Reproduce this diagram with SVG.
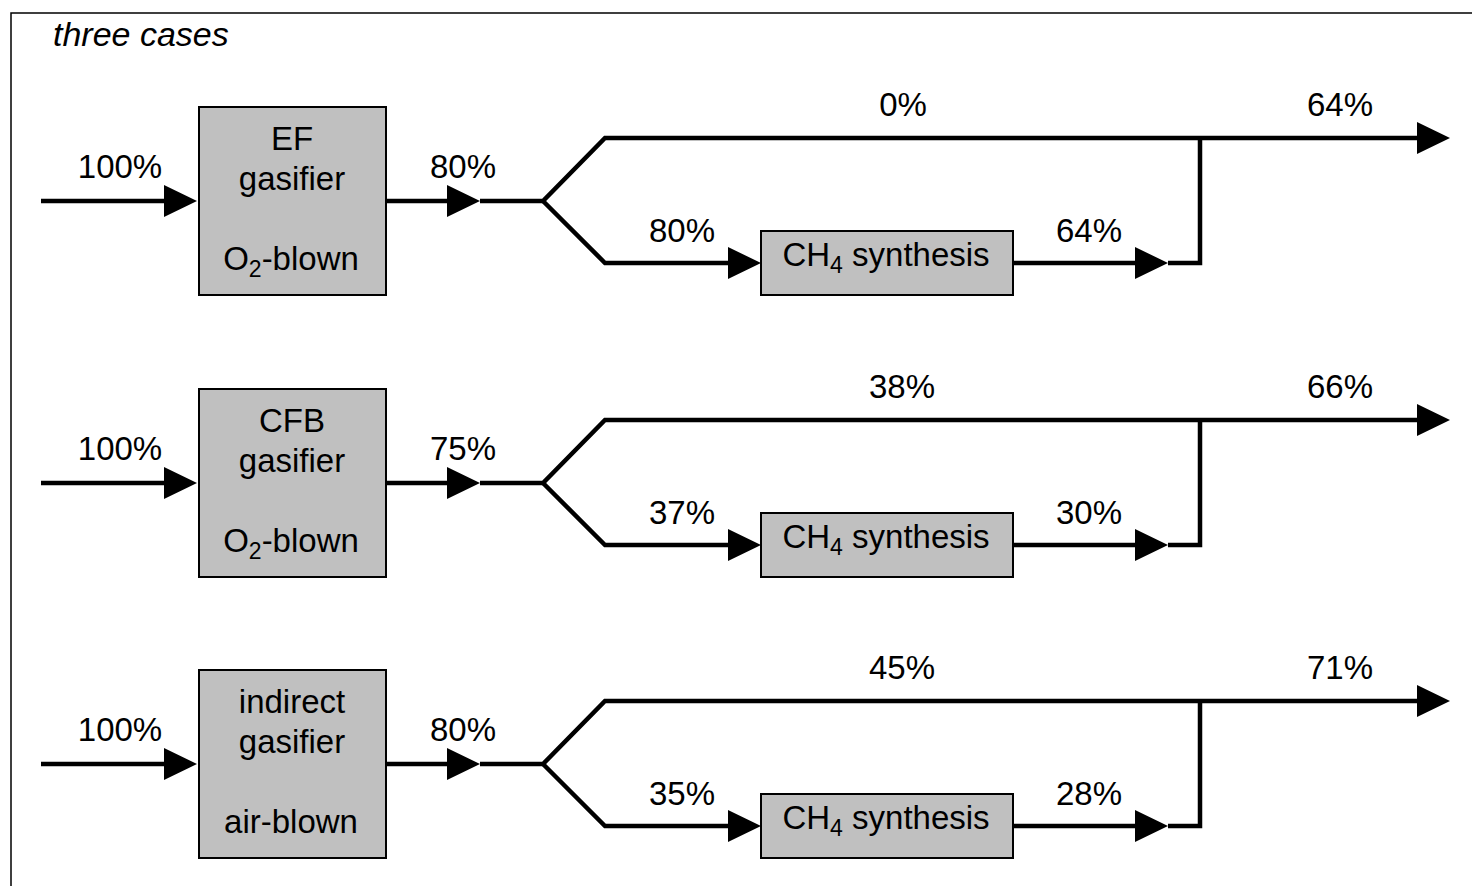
<svg xmlns="http://www.w3.org/2000/svg" width="1472" height="886" viewBox="0 0 1472 886">
<style>
  text { font-family: "Liberation Sans", Arial, sans-serif; font-size: 33px; fill: #000; }
  .lbl { text-anchor: middle; }
  .title { font-size: 34px; font-style: italic; }
  .box { fill: #c0c0c0; stroke: #000; stroke-width: 2; }
  .flow { fill: none; stroke: #000; stroke-width: 4.5; stroke-linejoin: miter; stroke-miterlimit: 10; }
  .arr { marker-end: url(#ah); }
  .sub { font-size: 23px; }
</style>
<defs>
  <marker id="ah" markerUnits="userSpaceOnUse" markerWidth="34" markerHeight="34" refX="0" refY="16" orient="auto" overflow="visible">
    <path d="M0,0 L33,16 L0,32 Z" fill="#000"/>
  </marker>
</defs>
<rect x="11" y="13" width="1500" height="900" fill="#fff" stroke="#000" stroke-width="1.5"/>
<text class="title" x="53" y="46">three cases</text>

<g id="connectors">
  <!-- row 1 -->
  <path class="flow arr" d="M41,201 H164"/>
  <path class="flow arr" d="M386,201 H447"/>
  <path class="flow arr" d="M480,201 H543 L605,138 H1417"/>
  <path class="flow arr" d="M543,201 L605,263 H728"/>
  <path class="flow arr" d="M1013,263 H1135"/>
  <path class="flow" d="M1168,263 H1200 V138"/>
  <!-- row 2 -->
  <path class="flow arr" d="M41,483 H164"/>
  <path class="flow arr" d="M386,483 H447"/>
  <path class="flow arr" d="M480,483 H543 L605,420 H1417"/>
  <path class="flow arr" d="M543,483 L605,545 H728"/>
  <path class="flow arr" d="M1013,545 H1135"/>
  <path class="flow" d="M1168,545 H1200 V420"/>
  <!-- row 3 -->
  <path class="flow arr" d="M41,764 H164"/>
  <path class="flow arr" d="M386,764 H447"/>
  <path class="flow arr" d="M480,764 H543 L605,701 H1417"/>
  <path class="flow arr" d="M543,764 L605,826 H728"/>
  <path class="flow arr" d="M1013,826 H1135"/>
  <path class="flow" d="M1168,826 H1200 V701"/>
</g>

<g id="labels">
  <text class="lbl" x="120" y="178">100%</text>
  <text class="lbl" x="463" y="178">80%</text>
  <text class="lbl" x="682" y="242">80%</text>
  <text class="lbl" x="1089" y="242">64%</text>
  <text class="lbl" x="903" y="116">0%</text>
  <text class="lbl" x="1340" y="116">64%</text>

  <text class="lbl" x="120" y="460">100%</text>
  <text class="lbl" x="463" y="460">75%</text>
  <text class="lbl" x="682" y="524">37%</text>
  <text class="lbl" x="1089" y="524">30%</text>
  <text class="lbl" x="902" y="398">38%</text>
  <text class="lbl" x="1340" y="398">66%</text>

  <text class="lbl" x="120" y="741">100%</text>
  <text class="lbl" x="463" y="741">80%</text>
  <text class="lbl" x="682" y="805">35%</text>
  <text class="lbl" x="1089" y="805">28%</text>
  <text class="lbl" x="902" y="679">45%</text>
  <text class="lbl" x="1340" y="679">71%</text>
</g>

<g id="gasifier-ef">
  <rect class="box" x="199" y="107" width="187" height="188"/>
  <text class="lbl" x="292" y="150">EF</text>
  <text class="lbl" x="292" y="190">gasifier</text>
  <text class="lbl" x="291" y="270">O<tspan class="sub" dy="7">2</tspan><tspan dy="-7">-blown</tspan></text>
</g>
<g id="ch4-1">
  <rect class="box" x="761" y="231" width="252" height="64"/>
  <text class="lbl" x="886" y="266">CH<tspan class="sub" dy="7">4</tspan><tspan dy="-7"> synthesis</tspan></text>
</g>

<g id="gasifier-cfb">
  <rect class="box" x="199" y="389" width="187" height="188"/>
  <text class="lbl" x="292" y="432">CFB</text>
  <text class="lbl" x="292" y="472">gasifier</text>
  <text class="lbl" x="291" y="552">O<tspan class="sub" dy="7">2</tspan><tspan dy="-7">-blown</tspan></text>
</g>
<g id="ch4-2">
  <rect class="box" x="761" y="513" width="252" height="64"/>
  <text class="lbl" x="886" y="548">CH<tspan class="sub" dy="7">4</tspan><tspan dy="-7"> synthesis</tspan></text>
</g>

<g id="gasifier-indirect">
  <rect class="box" x="199" y="670" width="187" height="188"/>
  <text class="lbl" x="292" y="713">indirect</text>
  <text class="lbl" x="292" y="753">gasifier</text>
  <text class="lbl" x="291" y="833">air-blown</text>
</g>
<g id="ch4-3">
  <rect class="box" x="761" y="794" width="252" height="64"/>
  <text class="lbl" x="886" y="829">CH<tspan class="sub" dy="7">4</tspan><tspan dy="-7"> synthesis</tspan></text>
</g>
</svg>
